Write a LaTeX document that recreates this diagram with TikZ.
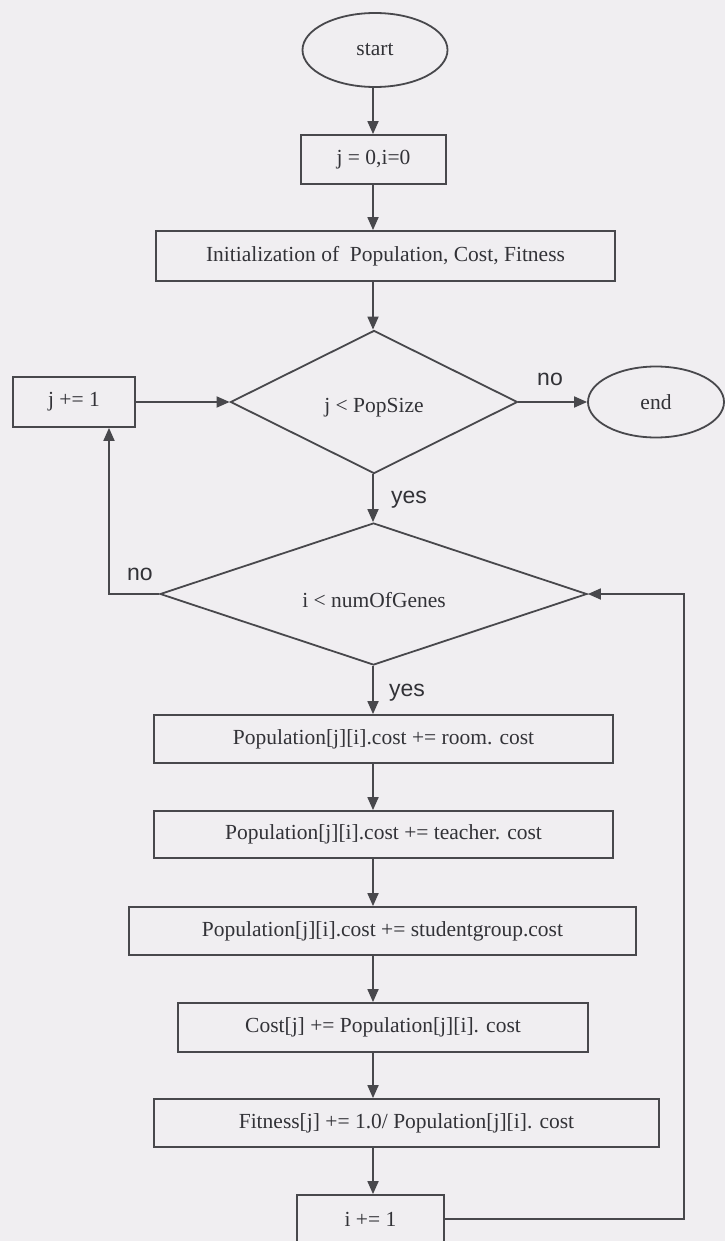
\documentclass[tikz,border=0pt]{standalone}
\usepackage{fontspec}
\setmainfont{Liberation Serif}
\newfontfamily\labelfont{Liberation Sans}
\usetikzlibrary{shapes.geometric,arrows.meta}
\definecolor{paper}{RGB}{240,238,241}
\definecolor{ink}{RGB}{72,72,76}
\definecolor{txt}{RGB}{50,50,55}
\begin{document}
\begin{tikzpicture}[x=1pt,y=-1pt,
  every node/.style={font=\fontsize{21.5}{24}\selectfont, text=txt},
  proc/.style={draw=ink, line width=1.8pt, rectangle, inner sep=0pt},
  term/.style={draw=ink, line width=1.8pt, ellipse, inner sep=0pt},
  cond/.style={draw=ink, line width=1.8pt, diamond, inner sep=0pt},
  flow/.style={draw=ink, line width=1.8pt, -{Triangle[length=13pt,width=11pt]}},
  tag/.style={font=\labelfont\fontsize{23}{26}\selectfont, inner sep=0pt}]

% page
\fill[paper] (0,0) rectangle (725,1241);
\useasboundingbox (0,0) rectangle (725,1241);

% main column of the flow
\coordinate (col) at (373,0);

% nodes
\node[term, minimum width=145pt, minimum height=74pt] (start) at (375,50) {start};
\node[proc, minimum width=145pt, minimum height=49pt] (init0) at (373.5,159.5) {j = 0,i=0};
\node[proc, minimum width=459pt, minimum height=50pt] (initpop) at (385.5,256) {Initialization of~ Population, Cost, Fitness};
\node[cond, minimum width=287pt, minimum height=143pt] (d1) at (374,402) {};
\node (d1txt) at (374,408) {j < PopSize};
\node[proc, minimum width=122pt, minimum height=50pt] (jinc) at (74,402) {j += 1};
\node[term, minimum width=136pt, minimum height=71pt] (endE) at (656,402) {end};
\node[cond, minimum width=427pt, minimum height=142pt] (d2) at (373.5,594) {};
\node (d2txt) at (374,600) {i < numOfGenes};
\node[proc, minimum width=459pt, minimum height=48pt] (p1) at (383.5,739) {Population[j][i].cost += room. cost};
\node[proc, minimum width=459pt, minimum height=47pt] (p2) at (383.5,834.5) {Population[j][i].cost += teacher. cost};
\node[proc, minimum width=507pt, minimum height=48pt] (p3) at (382.5,931) {Population[j][i].cost += studentgroup.cost};
\node[proc, minimum width=410pt, minimum height=49pt] (cost) at (383,1027.5) {Cost[j] += Population[j][i]. cost};
\node[proc, minimum width=505pt, minimum height=48pt] (fit) at (406.5,1123) {Fitness[j] += 1.0/ Population[j][i]. cost};
\node[proc, minimum width=147pt, minimum height=48pt] (iinc) at (370.5,1219) {i += 1};

% branch labels
\node[tag] (no1) at (550,379) {no};
\node[tag] (yes1) at (409,500) {yes};
\node[tag] (no2) at (140,574) {no};
\node[tag] (yes2) at (407,693) {yes};

% connectors down the column
\draw[flow] (start.south -| col) -- (init0.north -| col);
\draw[flow] (init0.south -| col) -- (initpop.north -| col);
\draw[flow] (initpop.south -| col) -- (d1.north -| col);
\draw[flow] (d1.south -| col) -- (d2.north -| col);
\draw[flow] (d2.south -| col) -- (p1.north -| col);
\draw[flow] (p1.south -| col) -- (p2.north -| col);
\draw[flow] (p2.south -| col) -- (p3.north -| col);
\draw[flow] (p3.south -| col) -- (cost.north -| col);
\draw[flow] (cost.south -| col) -- (fit.north -| col);
\draw[flow] (fit.south -| col) -- (iinc.north -| col);

% side connectors
\draw[flow] (jinc.east) -- (d1.west);
\draw[flow] (d1.east) -- (endE.west);
\coordinate (nobend) at (109,594);
\draw[flow] (d2.west) -- (nobend) -- (nobend |- jinc.south);
\coordinate (loopc) at (684,1219);
\draw[flow] (iinc.east) -- (loopc) -- (loopc |- d2.east) -- (d2.east);
\end{tikzpicture}
\end{document}
